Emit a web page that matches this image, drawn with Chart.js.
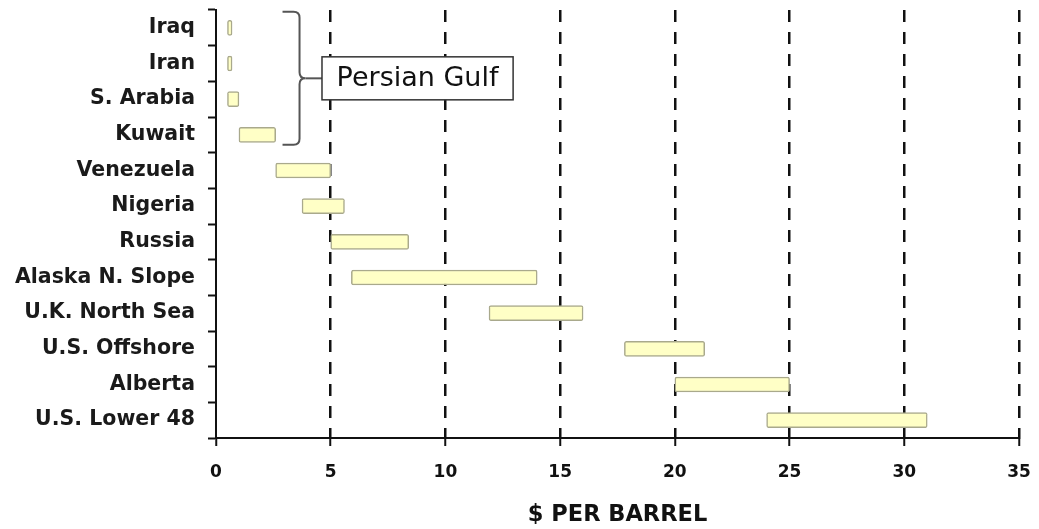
<!DOCTYPE html>
<html>
<head>
<meta charset="utf-8">
<script src="https://cdn.jsdelivr.net/npm/chart.js@4"></script>
<style>
  html, body { margin: 0; padding: 0; background: #fff; }
  #wrap { width: 1039px; height: 529px; }
</style>
</head>
<body>
<div id="wrap"><canvas id="chart-canvas"></canvas></div>
<script>
const countries = ["Iraq", "Iran", "S. Arabia", "Kuwait", "Venezuela", "Nigeria", "Russia",
  "Alaska N. Slope", "U.K. North Sea", "U.S. Offshore", "Alberta", "U.S. Lower 48"];
const costLow = [0.5, 0.5, 0.5, 1.0, 2.6, 3.75, 5.0, 5.9, 11.9, 17.8, 20.0, 24.0];
const costHigh = [0.7, 0.7, 1.0, 2.6, 5.0, 5.6, 8.4, 14.0, 16.0, 21.3, 25.0, 31.0];
const xTicks = [0, 5, 10, 15, 20, 25, 30, 35];
const axisTitle = "$ PER BARREL";
// bracket note
const groupFirst = "Iraq";
const groupLast = "Kuwait";
const groupLabel = "Persian Gulf";

const ranges = countries.map((c, i) => [costLow[i], costHigh[i]]);

// draws the curly bracket + boxed label next to the gulf countries
const gulfNote = {
  id: "gulfNote",
  afterDatasetsDraw(chart) {
    const ctx = chart.ctx;
    const x = chart.scales.x;
    const y = chart.scales.y;
    const yTop = y.getPixelForValue(countries.indexOf(groupFirst)) - 16;
    const yBot = y.getPixelForValue(countries.indexOf(groupLast)) + 10;
    const yMid = (yTop + yBot) / 2;
    const bx = x.getPixelForValue(2.9);
    const vx = bx + 17;
    const r = 6;

    ctx.save();
    ctx.strokeStyle = "#555";
    ctx.lineWidth = 2;
    ctx.beginPath();
    ctx.moveTo(bx, yTop);
    ctx.lineTo(vx - r, yTop);
    ctx.quadraticCurveTo(vx, yTop, vx, yTop + r);
    ctx.lineTo(vx, yMid - r);
    ctx.quadraticCurveTo(vx, yMid, vx + r, yMid);
    ctx.quadraticCurveTo(vx, yMid, vx, yMid + r);
    ctx.lineTo(vx, yBot - r);
    ctx.quadraticCurveTo(vx, yBot, vx - r, yBot);
    ctx.lineTo(bx, yBot);
    ctx.stroke();

    const boxL = x.getPixelForValue(4.62);
    const boxR = x.getPixelForValue(12.95);
    ctx.beginPath();
    ctx.moveTo(vx + r, yMid);
    ctx.lineTo(boxL, yMid);
    ctx.stroke();

    ctx.fillStyle = "#fff";
    ctx.fillRect(boxL, yMid - 21.5, boxR - boxL, 43);
    ctx.strokeStyle = "#333";
    ctx.lineWidth = 1.5;
    ctx.strokeRect(boxL, yMid - 21.5, boxR - boxL, 43);

    ctx.fillStyle = "#111";
    ctx.font = "27px 'DejaVu Sans'";
    ctx.textAlign = "center";
    ctx.textBaseline = "middle";
    ctx.fillText(groupLabel, (boxL + boxR) / 2, yMid + 1);
    ctx.restore();
  },
};

const ctx = document.getElementById("chart-canvas").getContext("2d");
const config = {
  type: "bar",
  data: {
    labels: countries,
    datasets: [
      {
        label: "Cost",
        data: ranges,
        backgroundColor: "#FFFFC6",
        borderColor: "#A9A98C",
        borderWidth: 1.5,
        borderSkipped: false,
        borderRadius: 2,
        barThickness: 15,
      },
    ],
  },
  options: {
    indexAxis: "y",
    responsive: true,
    maintainAspectRatio: false,
    animation: false,
    layout: { padding: { top: 10, right: 20, bottom: 0, left: 0 } },
    plugins: {
      legend: { display: false },
      tooltip: { enabled: false },
    },
    scales: {
      x: {
        type: "linear",
        min: 0,
        max: 35,
        afterBuildTicks: (scale) => {
          scale.ticks = xTicks.map((v) => ({ value: v }));
        },
        afterFit: (scale) => {
          scale.height = 91;
          scale.paddingLeft = 0;
          scale.paddingRight = 0;
        },
        grid: {
          color: (c) => (c.tick && c.tick.value === 0 ? "rgba(0,0,0,0)" : "#111"),
          lineWidth: 2.5,
          tickLength: 8,
          tickColor: "#111",
          tickWidth: 2,
        },
        border: { display: true, color: "#111", width: 2, dash: [12, 10] },
        ticks: {
          color: "#111",
          padding: 16,
          maxRotation: 0,
          font: { family: "'DejaVu Sans'", size: 17, weight: "bold" },
        },
        title: {
          display: true,
          text: axisTitle,
          color: "#111",
          padding: { top: 0, bottom: 0 },
          font: { family: "'DejaVu Sans'", size: 22.5, weight: "bold" },
        },
      },
      y: {
        type: "category",
        offset: true,
        afterFit: (scale) => {
          scale.width = 216;
          // labels sit in the middle of each band, no extra room needed
          scale.paddingTop = 0;
          scale.paddingBottom = 0;
        },
        grid: {
          offset: true,
          drawOnChartArea: false,
          tickLength: 8,
          tickColor: "#111",
          tickWidth: 2,
        },
        border: { display: true, color: "#111", width: 2 },
        ticks: {
          color: "#1a1a1a",
          padding: 13,
          autoSkip: false,
          font: { family: "'DejaVu Sans'", size: 20.5, weight: "bold" },
        },
      },
    },
  },
  plugins: [gulfNote],
};
const myChart = new Chart(ctx, config);
</script>
</body>
</html>
